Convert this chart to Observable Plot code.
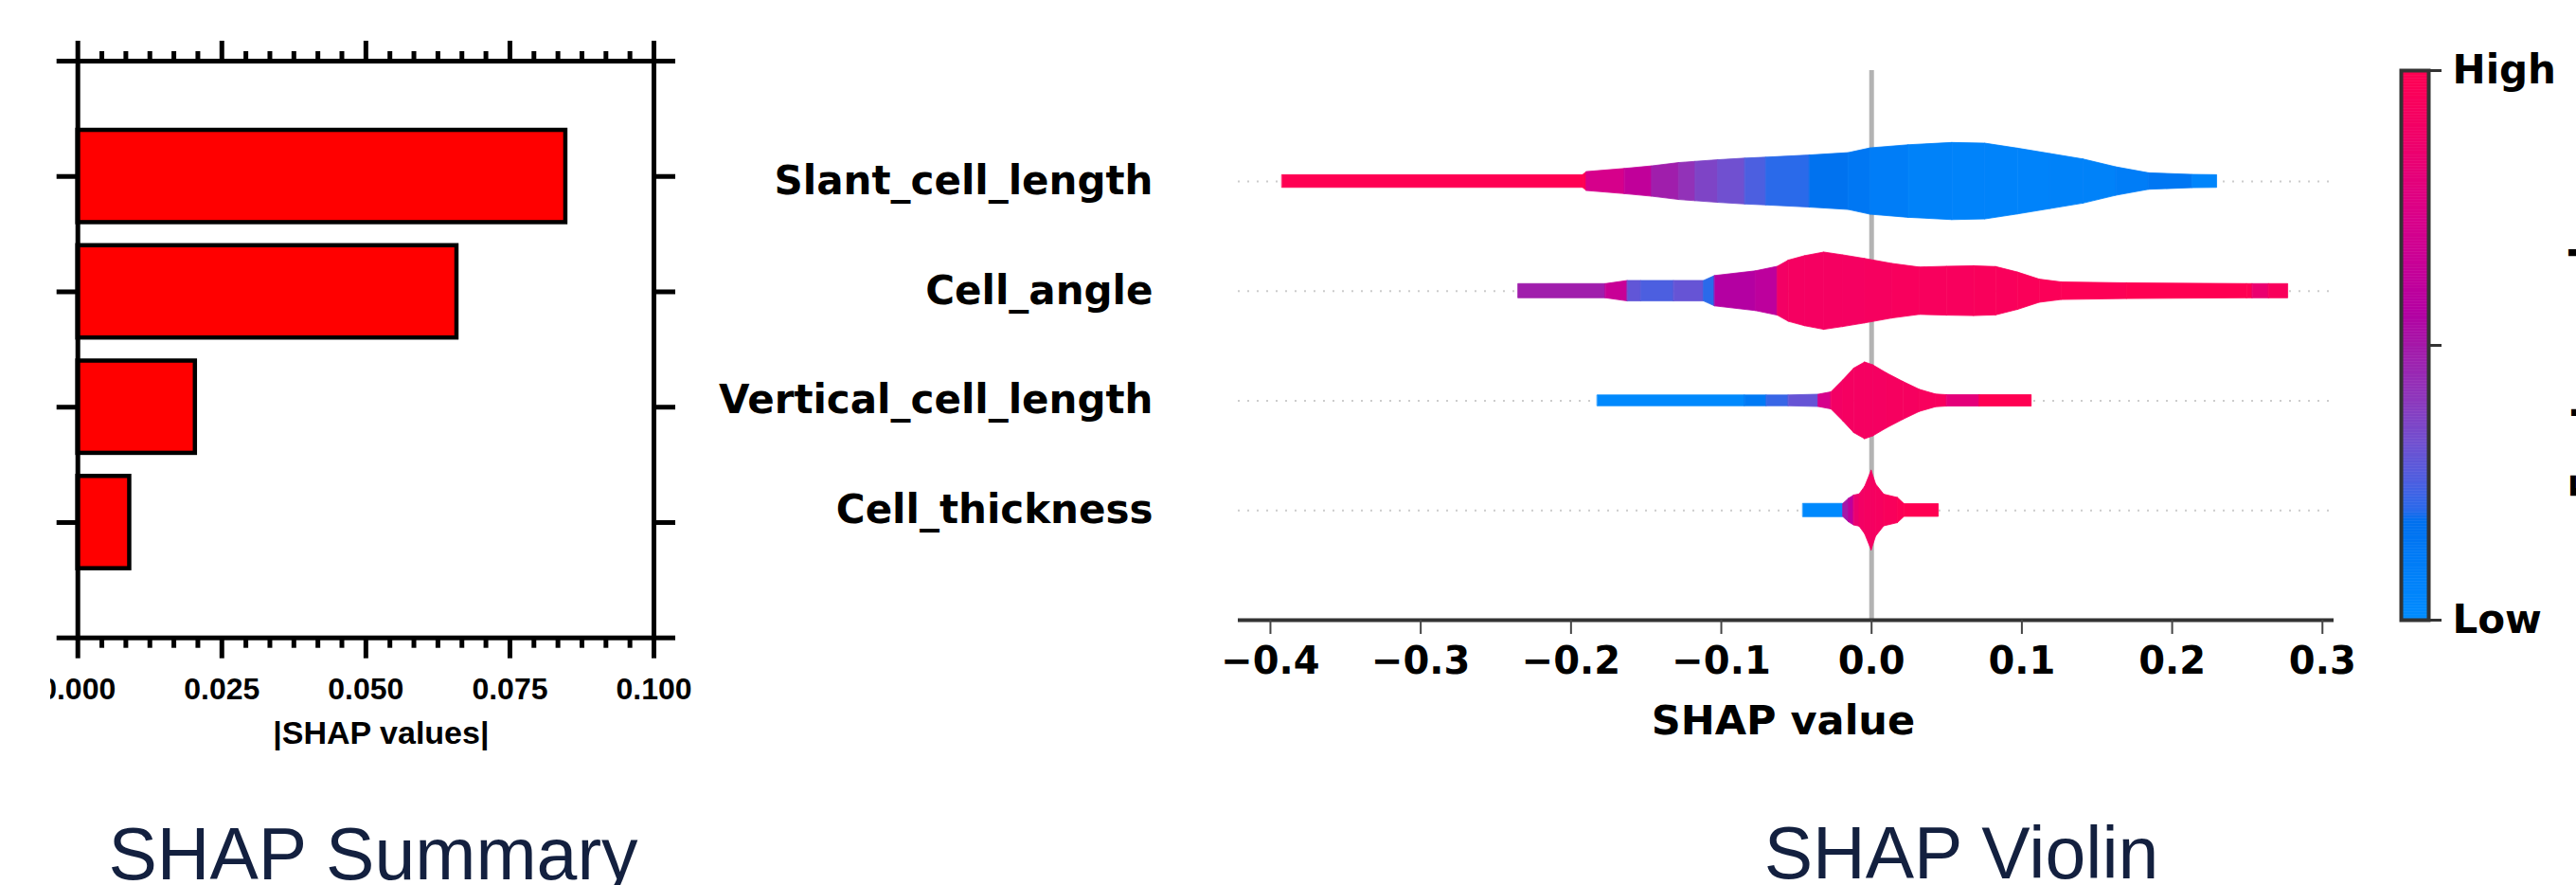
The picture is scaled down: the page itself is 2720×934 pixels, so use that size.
<!DOCTYPE html>
<html>
<head>
<meta charset="utf-8">
<script src="https://cdn.jsdelivr.net/npm/d3@7"></script>
<script src="https://cdn.jsdelivr.net/npm/@observablehq/plot@0.6"></script>
<style>
  html, body { margin: 0; padding: 0; background: #ffffff; width: 2720px; height: 934px; overflow: hidden; }
  .panel { position: absolute; top: 0; }
  #overlay { position: absolute; left: 0; top: 0; pointer-events: none; }
</style>
</head>
<body>
<div id="bars" class="panel" style="left:53px; width:700px; overflow:hidden;"></div>
<div id="violin" class="panel" style="left:700px;"></div>
<div id="cbar" class="panel" style="left:2500px;"></div>
<svg id="overlay" width="2720" height="934"></svg>
<script>
// ---------------- data ----------------
const features = ["Slant_cell_length", "Cell_angle", "Vertical_cell_length", "Cell_thickness"];

// mean |SHAP| per feature (left panel)
const barValues = [0.0847, 0.0658, 0.0204, 0.0090];
const barTicks = [0, 0.025, 0.05, 0.075, 0.1];
const barTickLabels = ["0.000", "0.025", "0.050", "0.075", "0.100"];
const barAxisLabel = "|SHAP values|";

// violin profiles: [SHAP value, density (half-width), feature value 0..1 of the segment starting here]
const slantProfile = [
  [-0.392, 6.7, 1.0], [-0.192, 6.7, 1.0], [-0.1895, 10, 0.72], [-0.1641, 13.3, 0.62],
  [-0.146, 16, 0.48], [-0.128, 19.5, 0.42], [-0.117, 20.8, 0.36], [-0.102, 22.5, 0.32],
  [-0.084, 24.2, 0.25], [-0.070, 25.2, 0.2], [-0.041, 27.5, 0.17], [-0.0152, 30, 0.14],
  [-0.0007, 35, 0.1], [0.0248, 38.3, 0.07], [0.0538, 40.7, 0.06], [0.0756, 40, 0.06],
  [0.0974, 34.7, 0.06], [0.1192, 29, 0.07], [0.141, 23.3, 0.07], [0.1628, 15, 0.1],
  [0.1846, 8.7, 0.14], [0.2136, 7, 0.05], [0.2299, 6.7, 0]
];
const angleProfile = [
  [-0.2349, 7.5, 0.48], [-0.1768, 7.5, 0.65], [-0.1622, 10.8, 0.29], [-0.1532, 10.8, 0.25],
  [-0.1314, 10.8, 0.3], [-0.1115, 10.8, 0.2], [-0.1042, 16, 0.56], [-0.0769, 21, 0.6],
  [-0.0624, 25.8, 0.9], [-0.0551, 32.3, 0.92], [-0.0442, 37, 0.92], [-0.0315, 40.8, 0.92],
  [-0.0188, 37.8, 0.92], [-0.0043, 34, 0.93], [0.0139, 28.8, 0.94], [0.032, 25, 0.94],
  [0.0502, 25.8, 0.94], [0.0683, 26.3, 0.95], [0.0829, 25.5, 0.95], [0.0974, 19.7, 0.96],
  [0.1119, 12.2, 0.97], [0.1265, 9.3, 0.98], [0.17, 8.3, 1.0], [0.2499, 7.5, 1.0],
  [0.2536, 7.5, 0.85], [0.2645, 7.5, 0.95], [0.2772, 7.5, 0]
];
const verticalProfile = [
  [-0.1822, 5.7, 0.02], [-0.0842, 5.7, 0.12], [-0.0697, 5.7, 0.22], [-0.0551, 5.7, 0.3],
  [-0.0352, 6.5, 0.72], [-0.0268, 9, 0.9], [-0.0188, 21.7, 0.92], [-0.0116, 34, 0.92],
  [-0.0043, 40.5, 0.92], [0.0011, 37.5, 0.92], [0.0102, 29, 0.93], [0.0211, 20, 0.93],
  [0.032, 11.7, 0.94], [0.0429, 6.7, 0.94], [0.0502, 6, 0.8], [0.072, 6, 1.0], [0.1065, 6, 0]
];
const thicknessProfile = [
  [-0.0454, 7, 0.02], [-0.0188, 7, 0.5], [-0.015, 12.5, 0.6], [-0.0116, 15.8, 0.85],
  [-0.008, 17, 0.9], [-0.0043, 25, 0.92], [0.0, 42, 0.92], [0.003, 27.5, 0.93],
  [0.0084, 16.7, 0.95], [0.0175, 13.3, 0.98], [0.0219, 6.7, 1.0], [0.0447, 6.7, 0]
];
const violinTicks = [-0.4, -0.3, -0.2, -0.1, 0, 0.1, 0.2, 0.3];
const violinTickLabels = ["\u22120.4", "\u22120.3", "\u22120.2", "\u22120.1", "0.0", "0.1", "0.2", "0.3"];
const violinAxisLabel = "SHAP value";

// colour map (feature value low -> high)
const colorStops = [0, 0.12, 0.18, 0.2, 0.25, 0.32, 0.4, 0.5, 0.56, 0.65, 0.75, 0.88, 1];
const colorStopColors = ["#008cff", "#007af5", "#0070ee", "#2a6aea", "#4c5fe0", "#7050d0", "#8d38bc",
                         "#a518a8", "#b400a2", "#c80096", "#dc0086", "#f00068", "#ff0052"];
const colorbarLabels = ["Low", "High"];
const colorbarTitle = "Feature value";
const captions = ["SHAP Summary", "SHAP Violin"];

// ---------------- left: bar summary ----------------
const bars = features.map((f, i) => ({feature: f, pos: i + 1, value: barValues[i]}));
const minorTicks = d3.range(25).filter(i => i % 6 !== 0).map(i => i * 0.1 / 24);
const ySlots = d3.range(0, features.length + 2);
const axisStyle = {strokeWidth: 5, stroke: "#000", label: null};

const left = Plot.plot({
  width: 700, height: 800,
  marginLeft: 28.7, marginRight: 63, marginTop: 64, marginBottom: 127.3,
  x: {domain: [0, 0.1]},
  y: {domain: [0, features.length + 1], reverse: true},
  style: {background: "transparent", fontFamily: "'Liberation Sans', Arial, sans-serif", color: "#000"},
  marks: [
    Plot.rect(bars, {x1: 0, x2: "value", y1: d => d.pos - 0.4, y2: d => d.pos + 0.4,
      fill: "#ff0000", stroke: "#000", strokeWidth: 4.5}),
    Plot.frame({stroke: "#000", strokeWidth: 5}),
    Plot.axisX({...axisStyle, anchor: "bottom", ticks: barTicks, tickSize: 22, tickPadding: 20,
      tickFormat: (d, i) => barTickLabels[i], fontSize: 32, fontWeight: "bold"}),
    Plot.axisX({...axisStyle, anchor: "bottom", ticks: minorTicks, tickSize: 11, tickFormat: () => ""}),
    Plot.axisX({...axisStyle, anchor: "top", ticks: barTicks, tickSize: 22, tickFormat: () => ""}),
    Plot.axisX({...axisStyle, anchor: "top", ticks: minorTicks, tickSize: 11, tickFormat: () => ""}),
    Plot.axisY({...axisStyle, anchor: "left", ticks: ySlots, tickSize: 22, tickFormat: () => ""}),
    Plot.axisY({...axisStyle, anchor: "right", ticks: ySlots, tickSize: 22, tickFormat: () => ""}),
    Plot.text([barAxisLabel], {frameAnchor: "bottom", lineAnchor: "bottom", dy: 112, dx: 16,
      fontSize: 34, fontWeight: "bold", fill: "#000"})
  ]
});
document.getElementById("bars").appendChild(left);

// ---------------- middle: violin ----------------
const densityScale = 1 / 115.7;
const profiles = [slantProfile, angleProfile, verticalProfile, thicknessProfile];
const segments = [];
let segId = 0;
profiles.forEach((p, row) => {
  for (let i = 0; i < p.length - 1; i++) {
    const [x0, w0, c] = p[i];
    const [x1, w1] = p[i + 1];
    segments.push({seg: segId, x: x0, lo: row - w0 * densityScale, hi: row + w0 * densityScale, c});
    segments.push({seg: segId, x: x1, lo: row - w1 * densityScale, hi: row + w1 * densityScale, c});
    segId++;
  }
});
const rows = features.map((f, i) => i);
const yDomain = [-1.0115, 4.0];

const violin = Plot.plot({
  width: 1800, height: 800,
  marginLeft: 607, marginRight: 36, marginTop: 74, marginBottom: 146,
  x: {domain: [-0.4214, 0.3077]},
  y: {domain: yDomain, reverse: true},
  color: {type: "linear", domain: colorStops, range: colorStopColors, interpolate: "rgb"},
  style: {background: "transparent", fontFamily: "'DejaVu Sans', sans-serif", color: "#000"},
  marks: [
    Plot.ruleY(rows, {stroke: "#cccccc", strokeWidth: 2, strokeDasharray: "2,8"}),
    Plot.ruleX([0], {stroke: "#b3b3b3", strokeWidth: 5}),
    Plot.areaY(segments, {x: "x", y1: "lo", y2: "hi", z: "seg", fill: "c", stroke: "c",
      strokeWidth: 0.8, curve: "linear"}),
    Plot.ruleY([yDomain[1]], {stroke: "#333333", strokeWidth: 4}),
    Plot.axisX({ticks: violinTicks, tickFormat: (d, i) => violinTickLabels[i], tickSize: 15,
      tickPadding: 13, stroke: "#444", strokeWidth: 2, fontSize: 40, fontWeight: "bold", label: null}),
    Plot.axisY({ticks: rows, tickFormat: i => features[i], tickSize: 0, tickPadding: 90,
      fontSize: 42, fontWeight: "bold", label: null}),
    Plot.text([violinAxisLabel], {frameAnchor: "bottom", lineAnchor: "bottom", dy: 120, dx: -3,
      fontSize: 43, fontWeight: "bold", fill: "#000"})
  ]
});
document.getElementById("violin").appendChild(violin);

// ---------------- right: colour bar ----------------
const cbSteps = d3.range(200).map(i => ({v0: i / 200, v1: (i + 1) / 200, v: (i + 0.5) / 200}));
const cbar = Plot.plot({
  width: 220, height: 800,
  marginLeft: 35, marginRight: 156, marginTop: 74, marginBottom: 146,
  x: {domain: [0, 1], axis: null},
  y: {domain: [0, 1]},
  color: {type: "linear", domain: colorStops, range: colorStopColors, interpolate: "rgb"},
  style: {background: "transparent", fontFamily: "'DejaVu Sans', sans-serif", color: "#000"},
  marks: [
    Plot.rect(cbSteps, {x1: 0, x2: 1, y1: "v0", y2: "v1", fill: "v", stroke: "v", strokeWidth: 0.5}),
    Plot.frame({stroke: "#333", strokeWidth: 4}),
    Plot.axisY({anchor: "right", ticks: [0, 0.5, 1], tickSize: 13, tickPadding: 12,
      tickFormat: v => v === 1 ? colorbarLabels[1] : v === 0 ? colorbarLabels[0] : "",
      stroke: "#333", strokeWidth: 3, fontSize: 42, fontWeight: "bold", label: null})
  ]
});
document.getElementById("cbar").appendChild(cbar);

// ---------------- captions ----------------
const ns = "http://www.w3.org/2000/svg";
const overlay = document.getElementById("overlay");
function addText(str, attrs) {
  const t = document.createElementNS(ns, "text");
  for (const k in attrs) t.setAttribute(k, attrs[k]);
  t.textContent = str;
  overlay.appendChild(t);
}
addText(captions[0], {x: 394, y: 928, "text-anchor": "middle", "font-family": "'Liberation Sans', Arial, sans-serif",
  "font-size": 77, fill: "#13203f"});
addText(captions[1], {x: 2071, y: 927, "text-anchor": "middle", "font-family": "'Liberation Sans', Arial, sans-serif",
  "font-size": 77, fill: "#13203f"});
addText(colorbarTitle, {transform: "translate(2745,364) rotate(-90)", "text-anchor": "middle",
  "font-family": "'DejaVu Sans', sans-serif", "font-weight": "bold", "font-size": 42, fill: "#000"});
</script>
</body>
</html>
